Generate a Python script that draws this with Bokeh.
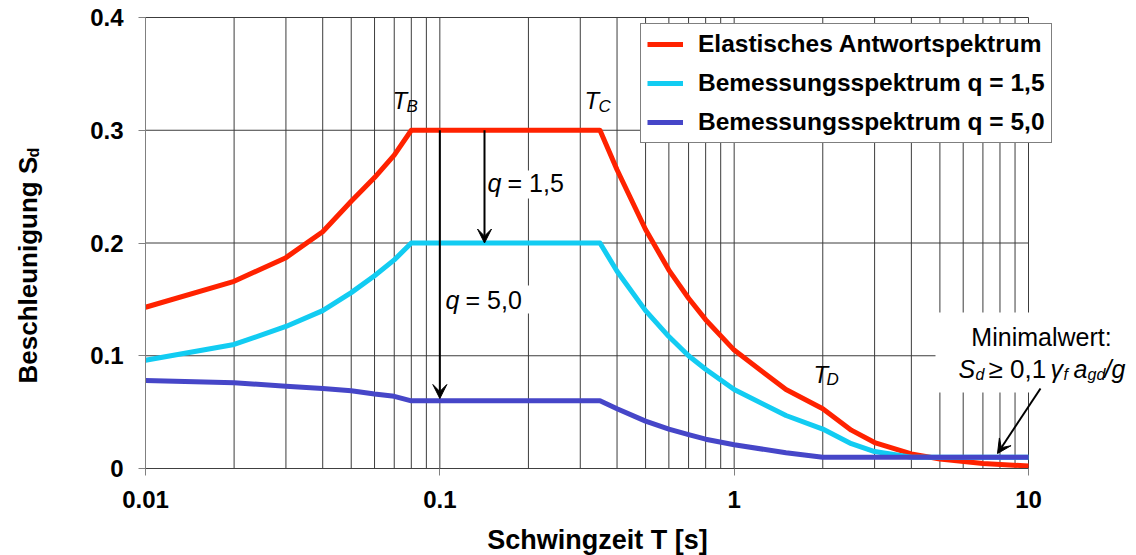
import math
from bokeh.plotting import figure
from bokeh.models import (Range1d, FixedTicker, Label, Arrow, VeeHead, BoxAnnotation,
                          ColumnDataSource)
from bokeh.embed import file_html
from bokeh.resources import INLINE

# ---------------- data ----------------
periods = [0.01, 0.02, 0.03, 0.04, 0.05, 0.06, 0.07, 0.08, 0.35, 0.4, 0.5, 0.6,
           0.7, 0.8, 1.0, 1.5, 2.0, 2.5, 3.0, 4.0, 5.0, 7.0, 10.0]
elastic = [0.143, 0.166, 0.187, 0.210, 0.237, 0.258, 0.278, 0.300, 0.300, 0.265,
           0.212, 0.176, 0.151, 0.132, 0.105, 0.070, 0.053, 0.034, 0.023, 0.013,
           0.0085, 0.0045, 0.0022]
design_q15 = [0.096, 0.110, 0.126, 0.140, 0.156, 0.171, 0.185, 0.200, 0.200, 0.175,
              0.140, 0.117, 0.100, 0.088, 0.070, 0.047, 0.035, 0.022, 0.015, 0.010,
              0.010, 0.010, 0.010]
design_q50 = [0.078, 0.076, 0.073, 0.071, 0.069, 0.066, 0.064, 0.060, 0.060, 0.053,
              0.042, 0.035, 0.030, 0.026, 0.021, 0.014, 0.010, 0.010, 0.010, 0.010,
              0.010, 0.010, 0.010]
series_names = ["Elastisches Antwortspektrum", "Bemessungsspektrum q = 1,5",
                "Bemessungsspektrum q = 5,0"]
series_colors = ["#FF2200", "#12CCF2", "#4646C8"]
x_major = [0.01, 0.1, 1, 10]
x_minor = [m * d for d in (0.01, 0.1, 1) for m in range(2, 10)]
x_tick_labels = ["0.01", "0.1", "1", "10"]
y_major = [0, 0.1, 0.2, 0.3, 0.4]
y_tick_labels = ["0", "0.1", "0.2", "0.3", "0.4"]
x_limits = (0.01, 10)
y_limits = (0, 0.4)

FONT = "Liberation Sans"
W, H = 1136, 555
# plot-area geometry inside the canvas (pixels), used to set the ranges
L, R, T, B = 145, 1028, 17, 468
PX_PER_DEC = (R - L) / 3.0
PX_PER_UNIT = (B - T) / 0.4


def X(px):
    return 10 ** ((px - L) / PX_PER_DEC - 2)


def Y(py):
    return (B - py) / PX_PER_UNIT


p = figure(width=W, height=H, x_axis_type="log",
           x_range=Range1d(X(0), X(W)), y_range=Range1d(Y(H), Y(0)),
           output_backend="svg", toolbar_location=None,
           min_border_left=0, min_border_right=0,
           min_border_top=0, min_border_bottom=0)
p.outline_line_color = None
p.background_fill_color = "white"
p.border_fill_color = "white"
p.xgrid.visible = False
p.ygrid.visible = False

# axes placed at the data origin of the chart
p.xaxis.fixed_location = y_limits[0]
p.yaxis.fixed_location = x_limits[0]
p.xaxis.bounds = x_limits
p.yaxis.bounds = y_limits
p.xaxis.ticker = FixedTicker(ticks=x_major, minor_ticks=x_minor)
p.yaxis.ticker = FixedTicker(ticks=y_major)
p.xaxis.major_label_overrides = {float(v): s for v, s in zip(x_major, x_tick_labels)}
p.yaxis.major_label_overrides = {float(v): s for v, s in zip(y_major, y_tick_labels)}
for ax in (p.xaxis, p.yaxis):
    ax.major_label_text_font = FONT
    ax.major_label_text_font_size = "24px"
    ax.major_label_text_font_style = "bold"
    ax.major_label_text_color = "black"
    ax.axis_line_color = "#808080"
    ax.major_tick_line_color = "#808080"
    ax.major_tick_out = 7
    ax.major_tick_in = 0
    ax.minor_tick_line_color = None
p.xaxis.major_label_standoff = 15
p.yaxis.major_label_standoff = 15
p.xaxis.axis_line_color = "#404040"

# grid lines, limited to the chart area
grid_x = sorted(x_major + x_minor)
p.segment(x0=grid_x, y0=[y_limits[0]] * len(grid_x), x1=grid_x,
          y1=[y_limits[1]] * len(grid_x), line_color="#3c3c3c", line_width=1)
p.segment(x0=[x_limits[0]] * len(y_major), y0=y_major,
          x1=[x_limits[1]] * len(y_major), y1=y_major,
          line_color="#3c3c3c", line_width=1)

# curves
src = ColumnDataSource(dict(T=periods, e=elastic, q15=design_q15, q50=design_q50))
for col, name, color in zip(["e", "q15", "q50"], series_names, series_colors):
    p.line("T", col, source=src, line_color=color, line_width=5,
           legend_label=name, line_join="round")

lg = p.legend[0]
lg.location = (640, H - 143)
lg.label_text_font = FONT
lg.label_text_font_size = "24.5px"
lg.label_text_font_style = "bold"
lg.label_text_color = "black"
lg.glyph_width = 36
lg.glyph_height = 20
lg.label_standoff = 15
lg.label_height = 28
lg.spacing = 11
lg.padding = 6
lg.margin = 0
lg.border_line_color = "black"
lg.border_line_width = 1.5
lg.background_fill_color = "white"
lg.background_fill_alpha = 1

# white backgrounds behind annotation texts
p.add_layout(BoxAnnotation(left=X(935), right=X(1136), bottom=Y(392), top=Y(312),
                           fill_color="white", fill_alpha=1, line_color=None))
p.add_layout(BoxAnnotation(left=X(486), right=X(576), bottom=Y(198), top=Y(170),
                           fill_color="white", fill_alpha=1, line_color=None))
p.add_layout(BoxAnnotation(left=X(443), right=X(530), bottom=Y(313), top=Y(285),
                           fill_color="white", fill_alpha=1, line_color=None))


def lab(px, py, text, size=24, style="normal", align="left", angle=0):
    # (px, py): left/centre x and vertical middle of the capitals, in pixels
    p.add_layout(Label(x=X(px), y=Y(py), text=text, text_font=FONT,
                       text_font_size=f"{size}px", text_font_style=style,
                       text_align=align, text_baseline="middle",
                       text_color="black", angle=angle))


# axis titles
lab(597, 539, "Schwingzeit T [s]", size=27, style="bold", align="center")
lab(27, 383, "Beschleunigung S", size=26, style="bold", angle=math.pi / 2)
lab(33, 157, "d", size=16, style="bold", angle=math.pi / 2)

# corner periods
lab(392, 100, "T", size=24, style="italic")
lab(406, 106, "B", size=17, style="italic")
lab(584, 100, "T", size=24, style="italic")
lab(598, 106, "C", size=17, style="italic")
lab(813, 374, "T", size=24, style="italic")
lab(826, 379, "D", size=17, style="italic")

# behaviour factor annotations
lab(487, 182, "q", size=25, style="italic")
lab(507, 182, "= 1,5", size=25)
lab(445, 299, "q", size=25, style="italic")
lab(465, 299, "= 5,0", size=25)

# minimum value note
lab(1041, 336, "Minimalwert:", size=25, align="center")
lab(958, 368, "S", size=25, style="italic")
lab(975, 374, "d", size=16, style="italic")
lab(988, 368, "\u2265 0,1", size=26)
lab(1050, 368, "\u03b3", size=25, style="italic")
lab(1063, 374, "f", size=16, style="italic")
lab(1073, 368, "a", size=25, style="italic")
lab(1087, 374, "gd", size=16, style="italic")
lab(1104, 368, "/g", size=25, style="italic")


# arrows
def arrow(x0, y0, x1, y1):
    p.add_layout(Arrow(x_start=x0, y_start=y0, x_end=x1, y_end=y1,
                       line_color="black", line_width=2,
                       end=VeeHead(size=14, fill_color="black", line_color="black",
                                   line_width=1)))


arrow(0.1, 0.3, 0.1, Y(398))
arrow(X(484), 0.3, X(484), 0.2)
arrow(X(1040), Y(388), X(997), Y(453))

open("out.html", "w").write(file_html(p, INLINE))
